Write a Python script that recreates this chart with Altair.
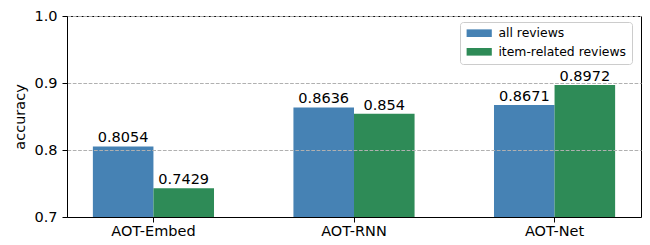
import altair as alt
import pandas as pd

models = ["AOT-Embed", "AOT-RNN", "AOT-Net"]
series = ["all reviews", "item-related reviews"]
all_reviews = [0.8054, 0.8636, 0.8671]
item_related = [0.7429, 0.854, 0.8972]
label_all = ["0.8054", "0.8636", "0.8671"]
label_item = ["0.7429", "0.854", "0.8972"]
colors = ["#4682b4", "#2e8b57"]
y_ticks = [0.7, 0.8, 0.9, 1.0]

rows = []
for i, m in enumerate(models):
    rows.append({"model": m, "series": series[0], "acc": all_reviews[i], "label": label_all[i]})
    rows.append({"model": m, "series": series[1], "acc": item_related[i], "label": label_item[i]})
df = pd.DataFrame(rows)

FONT = "DejaVu Sans"

x = alt.X("model:N", sort=models, title=None,
          scale=alt.Scale(paddingInner=0.396, paddingOuter=0.129),
          axis=alt.Axis(labelAngle=0, labelFontSize=14.5, labelColor="black", labelFont=FONT,
                        tickColor="black", tickSize=5, labelPadding=2,
                        domainColor="black", domainWidth=1, zindex=1))
xo = alt.XOffset("series:N", sort=series, scale=alt.Scale(paddingInner=0, paddingOuter=0))
y = alt.Y("acc:Q", scale=alt.Scale(domain=[0.7, 1.0], zero=False, nice=False),
          title="accuracy",
          axis=alt.Axis(values=y_ticks, format=".1f", labelFontSize=14.5, labelColor="black",
                        labelFont=FONT, tickColor="black", tickSize=5, labelPadding=5,
                        titleFontSize=14.5, titleFontWeight="normal", titleColor="black",
                        titleFont=FONT, titlePadding=6,
                        grid=True, gridColor="#b0b0b0", gridDash=[3.7, 1.6], gridWidth=1,
                        domainColor="black", domainWidth=1, zindex=1))

bars = alt.Chart(df).mark_bar().encode(
    x=x, xOffset=xo, y=y, y2=alt.datum(0.7),
    color=alt.Color("series:N", sort=series,
                    scale=alt.Scale(domain=series, range=colors),
                    legend=alt.Legend(title=None, orient="none", legendX=393, legendY=6,
                                      symbolType="M-2.8,-0.85L2.8,-0.85L2.8,0.85L-2.8,0.85Z",
                                      symbolSize=81, symbolStrokeWidth=0, symbolOffset=8,
                                      labelOffset=13, labelFontSize=12.4, labelFont=FONT,
                                      labelColor="black", rowPadding=5.6, padding=5,
                                      strokeColor="#cccccc", fillColor="white",
                                      cornerRadius=3)),
)

texts = alt.Chart(df).mark_text(baseline="alphabetic", dy=-4, fontSize=14.5, font=FONT,
                                color="black").encode(
    x=alt.X("model:N", sort=models), xOffset=xo,
    y=alt.Y("acc:Q"), text="label:N",
)

chart = alt.layer(bars, texts).properties(
    width=574, height=201,
    padding={"left": 59, "top": 8, "right": 1, "bottom": 20},
    autosize=alt.AutoSizeParams(type="none"),
).configure_view(stroke="black", strokeWidth=1)

chart.save("out.html", embed_options={"renderer": "svg", "actions": False})
